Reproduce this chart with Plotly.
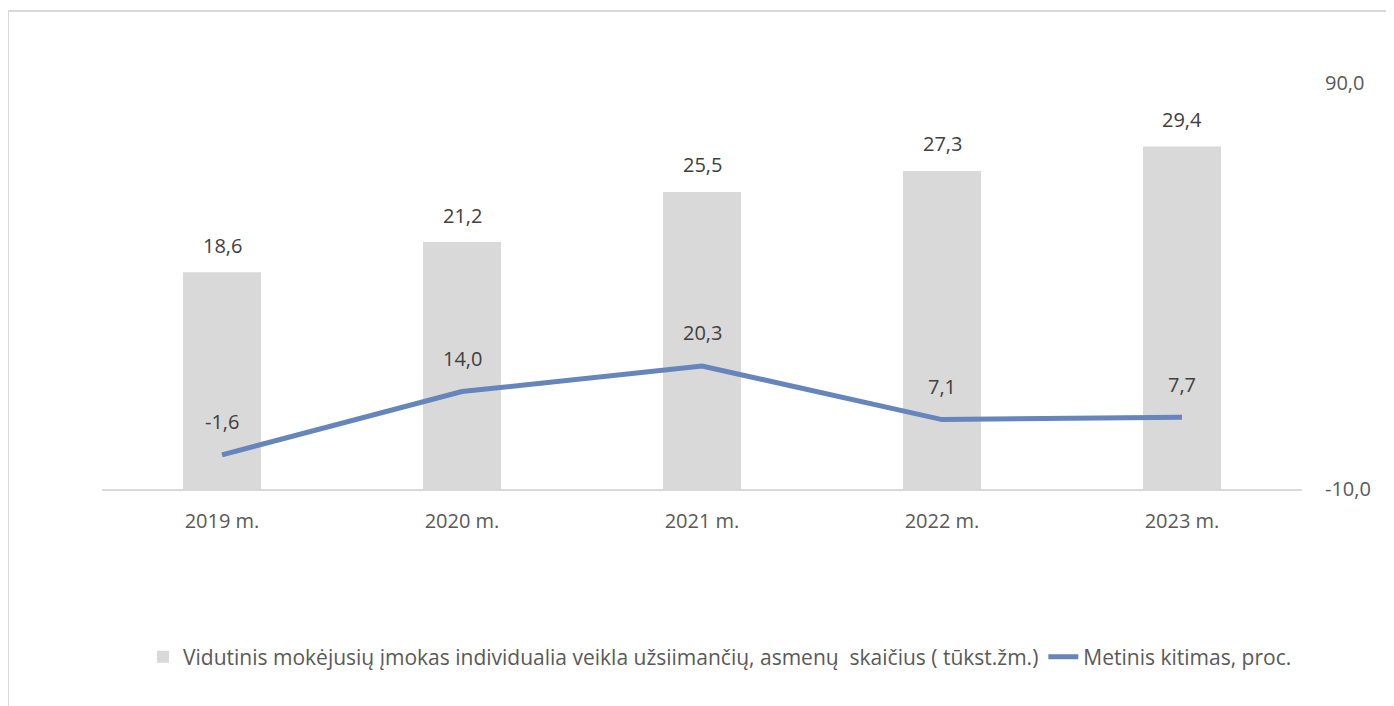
import plotly.graph_objects as go

categories = ["2019 m.", "2020 m.", "2021 m.", "2022 m.", "2023 m."]
bar_values = [18.6, 21.2, 25.5, 27.3, 29.4]
line_values = [-1.6, 14.0, 20.3, 7.1, 7.7]
bar_name = "Vidutinis mokėjusių įmokas individualia veikla užsiimančių, asmenų  skaičius ( tūkst.žm.)"
line_name = "Metinis kitimas, proc."
right_ticks = [-10, 90]

def fmt(v):
    return f"{v:.1f}".replace(".", ",")

FONT = "Open Sans"
W, H = 1394, 706
L, T = 94, 75
pw, ph = 1200, 406
R, B = W - L - pw, H - T - ph
base = T + ph  # figure pixel of plot bottom

fig = go.Figure()
fig.add_trace(go.Bar(
    x=categories, y=bar_values, name=bar_name,
    marker=dict(color="#d9d9d9", line=dict(width=0)),
    yaxis="y", hoverinfo="skip",
))
fig.add_trace(go.Scatter(
    x=categories, y=line_values, name=line_name, mode="lines",
    line=dict(color="#6585bb", width=5),
    yaxis="y2", hoverinfo="skip",
))

for c, v in zip(categories, bar_values):
    fig.add_annotation(x=c, y=v, yref="y", text=fmt(v), showarrow=False,
                       yshift=27, font=dict(family=FONT, size=20, color="#404040"))
for c, v in zip(categories, line_values):
    fig.add_annotation(x=c, y=v, yref="y2", text=fmt(v), showarrow=False,
                       yshift=33, font=dict(family=FONT, size=20, color="#404040"))

# outer border
fig.add_shape(type="rect", xref="paper", yref="paper",
              x0=(0 - L) / pw, x1=1.2, y0=-0.7, y1=(base - 3) / ph,
              line=dict(color="#d9d9d9", width=2), layer="below")

fig.update_layout(
    width=W, height=H,
    margin=dict(l=L, r=R, t=T, b=B),
    paper_bgcolor="white", plot_bgcolor="white",
    font=dict(family=FONT, size=20, color="#595959"),
    bargap=0.675,
    showlegend=True,
    legend=dict(orientation="h", x=(712 - L) / pw, xanchor="center",
                y=(base - 649) / ph, yanchor="middle",
                font=dict(family=FONT, size=21, color="#595959"),
                traceorder="normal"),
    xaxis=dict(showgrid=False, showline=True, linecolor="#d9d9d9", linewidth=2,
               ticks="", tickfont=dict(size=20, color="#595959"), ticklabelstandoff=13),
    yaxis=dict(range=[0, 34.85], visible=False, showgrid=False),
    yaxis2=dict(range=[-10, 90], overlaying="y", side="right", showgrid=False,
                zeroline=False, showline=False, ticks="",
                tickvals=right_ticks, ticktext=[fmt(v) for v in right_ticks],
                tickfont=dict(size=20, color="#595959"), ticklabelstandoff=22),
)

fig.write_html("out.html")
